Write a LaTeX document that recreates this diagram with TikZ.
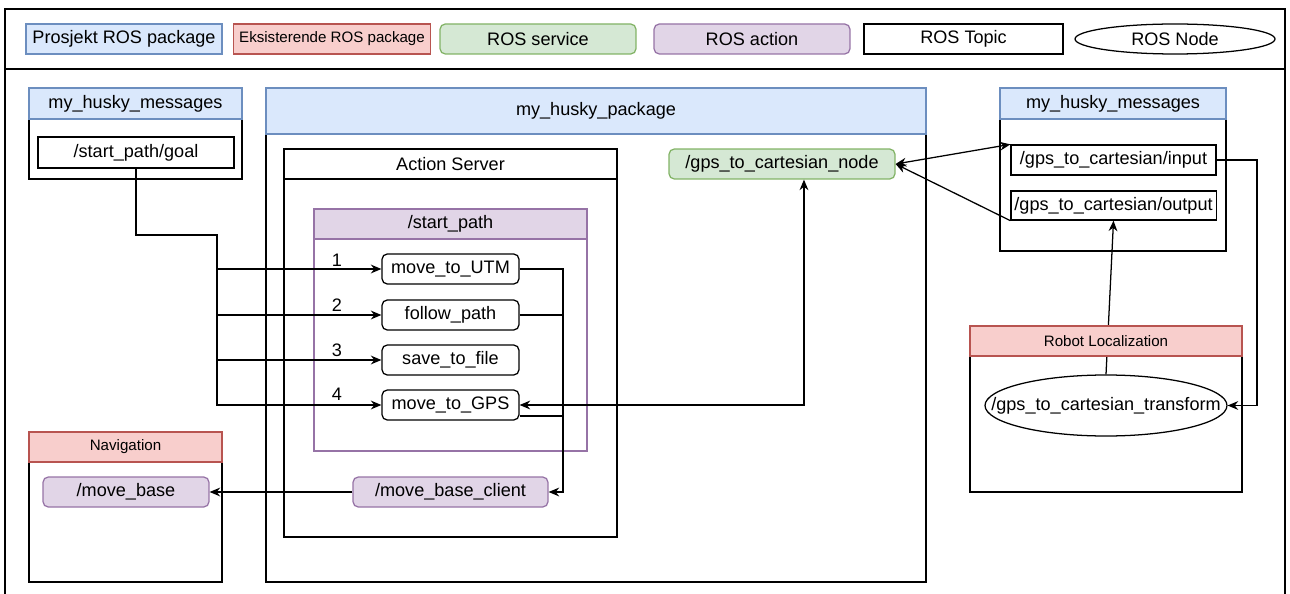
\documentclass[tikz,border=0pt]{standalone}
\usepackage{fontspec}
\setmainfont{Liberation Sans}
\usepackage{tikz}
\usetikzlibrary{shapes.geometric, arrows.meta, positioning, calc}
\definecolor{pkgblue}{HTML}{DAE8FC}
\definecolor{pkgblueline}{HTML}{6C8EBF}
\definecolor{extred}{HTML}{F8CECC}
\definecolor{extredline}{HTML}{B85450}
\definecolor{srvgreen}{HTML}{D5E8D4}
\definecolor{srvgreenline}{HTML}{82B366}
\definecolor{actpurple}{HTML}{E1D5E7}
\definecolor{actpurpleline}{HTML}{9673A6}
\newcommand{\mainsz}{\fontsize{10.3}{12}\selectfont}
\newcommand{\smallsz}{\fontsize{8.6}{10}\selectfont}
\tikzstyle{arrow} = [->, >={Stealth[length=6pt, width=5pt]}]
\tikzstyle{projpkg} = [rectangle, draw=pkgblueline, fill=pkgblue, minimum height=0.6cm, text centered]
\tikzstyle{extpkg} = [rectangle, draw=extredline, fill=extred, minimum height=0.6cm, font=\smallsz]
\tikzstyle{service} = [rectangle, rounded corners=3pt, draw=srvgreenline, fill=srvgreen, minimum height=0.6cm]
\tikzstyle{action} = [rectangle, rounded corners=3pt, draw=actpurpleline, fill=actpurple, minimum height=0.6cm]
\tikzstyle{topic} = [rectangle, draw=black, fill=white, minimum height=0.6cm, inner xsep=2pt]
\tikzstyle{container} = [rectangle, draw=black]
\tikzstyle{task} = [rectangle, rounded corners=3pt, draw=black, fill=white, minimum width=2.74cm, minimum height=0.6cm]

\begin{document}
\begin{tikzpicture}[x=0.02cm, y=-0.02cm, line width=0.72pt, font=\mainsz]
    \useasboundingbox (0,0) rectangle (1290,594);
    % Frame and legend
    \draw (5,594) -- (5,9) -- (1285,9) -- (1285,594);
    \draw (5,69) -- (1285,69);
    \node (legproj) [projpkg, minimum width=3.92cm] at (124,39) {Prosjekt ROS package};
    \node (legext) [extpkg, minimum width=3.92cm] at (332,39) {Eksisterende ROS package};
    \node (legsrv) [service, minimum width=3.92cm] at (538,39) {ROS service};
    \node (legact) [action, minimum width=3.92cm] at (752,39) {ROS action};
    \node (legtopic) [topic, minimum width=3.98cm] at (963.5,39) {ROS Topic};
    \node (legnode) [ellipse, draw, inner sep=0pt, minimum width=4cm, minimum height=0.6cm] at (1175,39) {ROS Node};

    % my_husky_messages (left)
    \node (lmsg) [container, minimum width=4.26cm, minimum height=1.82cm] at (135.5,133.5) {};
    \node (lmsghead) [projpkg, minimum width=4.26cm, minimum height=0.62cm] at (135.5,103.5) {my\_husky\_messages};
    \node (goal) [topic, minimum width=3.92cm, minimum height=0.62cm] at (136,152.5) {/start\_path/goal};

    % Navigation
    \node (nav) [container, minimum width=3.86cm, minimum height=3cm] at (125.5,507) {};
    \node (navhead) [extpkg, minimum width=3.86cm] at (125.5,447) {Navigation};
    \node (movebase) [action, minimum width=3.32cm] at (126,492) {/move\_base};

    % my_husky_package
    \node (pkg) [container, minimum width=13.2cm, minimum height=9.88cm] at (596,335) {};
    \node (pkghead) [projpkg, minimum width=13.2cm, minimum height=0.92cm] at (596,111) {my\_husky\_package};

    % Action server
    \node (server) [container, minimum width=6.66cm, minimum height=7.76cm] at (450.5,343) {};
    \node (serverhead) [container, minimum width=6.66cm, minimum height=0.6cm] at (450.5,164) {Action Server};
    \node (startpath) [container, draw=actpurpleline, minimum width=5.46cm, minimum height=4.84cm] at (450.5,330) {};
    \node (startpathhead) [action, sharp corners, minimum width=5.46cm] at (450.5,224) {/start\_path};
    \node (utm) [task] at (450.5,269) {move\_to\_UTM};
    \node (follow) [task] at (450.5,315) {follow\_path};
    \node (save) [task] at (450.5,360) {save\_to\_file};
    \node (gps) [task] at (450.5,405) {move\_to\_GPS};
    \foreach \n/\y in {1/260, 2/305, 3/350, 4/394}
        \node (num\n) at (337,\y) {\n};
    \node (client) [action, minimum width=3.9cm] at (450.5,492) {/move\_base\_client};

    % GPS conversion
    \node (gpsnode) [service, minimum width=4.52cm] at (782,164) {/gps\_to\_cartesian\_node};

    % my_husky_messages (right)
    \node (rmsg) [container, minimum width=4.52cm, minimum height=3.26cm] at (1113,169.5) {};
    \node (rmsghead) [projpkg, minimum width=4.52cm, minimum height=0.62cm] at (1113,103.5) {my\_husky\_messages};
    \node (input) [topic, minimum width=4.1cm] at (1113.5,160) {/gps\_to\_cartesian/input};
    \node (output) [topic, minimum width=4.1cm, minimum height=0.58cm] at (1113.5,205.5) {/gps\_to\_cartesian/output};

    % Robot Localization (header drawn over the link)
    \node (robloc) [container, minimum width=5.44cm, minimum height=3.32cm] at (1106,409) {};
    \node (transform) [ellipse, draw, inner sep=0pt, minimum width=4.84cm, minimum height=1.22cm, label=center:{/gps\_to\_cartesian\_transform}] at (1106,405.5) {};
    \draw [arrow] (transform.north) -- (output.south);
    \node (robhead) [extpkg, minimum width=5.44cm] at (1106,341) {Robot Localization};

    % Connections
    \coordinate (bus) at (217,235);
    \foreach \t in {utm, follow, save, gps}
        \draw [arrow] (goal.south) |- (bus) |- (\t.west);
    \coordinate (merge) at (563,492);
    \draw [arrow] (utm.east) -| (merge) -- (client.east);
    \draw (follow.east) -| (merge);
    \draw ($(gps.east)+(0,11)$) -| (merge);
    \draw [arrow] (client.west) -- (movebase.east);
    \draw [arrow, <->] (gps.east) -| ([xshift=12.5pt]gpsnode.south);
    \draw [arrow, <->] (gpsnode.east) -- (input.north west);
    \draw [arrow] (output.south west) -- (gpsnode.east);
    \coordinate (turn) at (1257,405.5);
    \draw [arrow] (input.east) -| (turn) -- (transform.east);
\end{tikzpicture}
\end{document}
